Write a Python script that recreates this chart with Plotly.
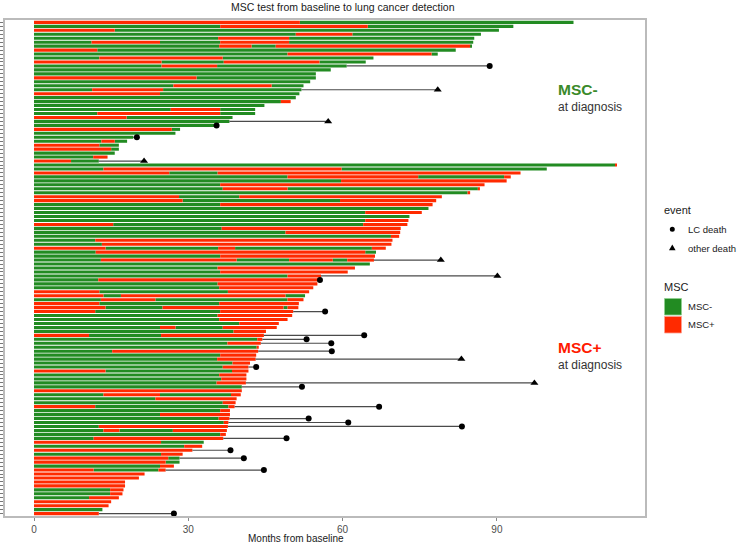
import plotly.graph_objects as go

# ---------------- data ----------------
# Each patient (row, top to bottom): tokens "<state><month>" where state G = MSC-, R = MSC+,
# and month = time (months from baseline) at which that state period ends.
msc_neg_group = [
    "R51.7 G104.9", "G36.2 R64.9 G93.2", "R15.7 G90.4", "G50.9 R61.9 G86.9",
    "G35.8 R49.6 G85.6", "G11.2 R24.5 G36.2 R49.6 G85.4", "G36.0 R42.3 G47.0 R84.8 G85.1",
    "R12.3 G82.0", "G49.3 R77.3 G78.5", "G12.7 R36.7 G66.0", "R24.8 G36.9 R55.5 G64.5",
    "G24.8 R35.6 G60.8", "G57.7", "G54.8", "R31.6 G54.8", "G53.7", "G27.1 R46.2 G52.4",
    "G11.3 R25.1 G52.0", "R24.5 G51.6", "G50.9", "G48.0 R49.9", "G44.8",
    "G26.6 R36.2 G43.0", "G12.3 R36.2 G43.0", "R18.0 G38.6", "G38.0", "G35.5",
    "R26.8 G28.4", "G27.5", "G19.3", "G13.1 R15.7 G18.1", "R12.7 G16.5", "R15.0 G16.5",
    "G15.7", "G11.5 R14.3", "R7.2 G12.6",
]
msc_pos_group = [
    "G113.0 R113.3", "G13.5 R59.8 G99.7", "R26.3 G35.7 R94.6", "G49.3 R74.7 G91.4 R92.7",
    "G59.7 R91.9", "G36.2 R87.6", "G36.7 R49.3 G86.3 R86.7", "G84.3 R84.8",
    "R28.2 G39.9 R79.3", "R28.9 G59.5 R78.2", "G36.2 R77.5", "G76.7", "G64.4 R75.4",
    "G73.0", "G64.4 R72.8", "R15.4 G64.0 R72.6", "G36.5 R71.3", "G48.9 R71.2",
    "G69.4 R71.0", "G11.9 R69.7", "G13.2 R69.5", "R13.9 G35.8 R39.1 G65.7 R68.4",
    "G12.0 R64.4 G66.5", "G36.2 R66.3", "G13.0 R39.4 G49.6 R58.1 G60.9 R66.1",
    "G65.3", "G35.7 R62.4", "G36.2 R61.0", "G49.3 R55.8", "G12.5 R55.3", "G35.7 R55.1",
    "G36.0 R54.3", "R12.7 G37.7 R53.5", "R13.5 G16.9 R48.9 G52.7", "G13.0 R23.6 G49.3 R52.4",
    "R12.7 G36.0 R51.5", "R13.9 G25.0 R48.5 G49.3 R51.4", "R11.9 G36.2 R50.4",
    "G35.7 R50.2", "G36.0 R49.3", "G39.9 R47.6", "G24.5 R27.5 G36.7 R47.2",
    "G38.8 R45.1", "R10.7 G24.7 R44.7", "G43.4 R44.4", "G37.6 R44.1", "G43.3 R43.7",
    "G15.2 R43.6", "G36.2 R43.2", "G35.6 R43.1", "G38.6 R42.0", "G36.7 R41.7",
    "R13.9 G38.5 R41.7", "G36.0 R41.3", "G36.4 R41.3", "G35.5 R41.2", "G40.4", "R40.4",
    "G13.5 R24.5 G38.3 R40.2", "G23.6 R39.4", "G36.7 R39.2", "R11.9 G37.8 R39.0",
    "G36.2 R38.1", "G24.5 R38.1", "G35.9 R38.0", "G36.9 R37.8", "G12.6 R37.7",
    "G13.5 R16.6 G27.0 R37.5", "G36.2 R37.3", "G11.6 R36.8", "R24.7 G33.0",
    "G29.2 R32.7", "R30.8", "G24.7 R28.9", "R26.1 G28.3", "R25.6 G28.3", "G24.5 R27.2",
    "R11.6 G24.2 R25.6", "R21.5", "R20.4", "R17.7", "R17.7", "G14.8 R17.4",
    "G14.8 R17.2", "G10.7 R16.5", "R15.0", "R14.5", "G13.3", "R12.6",
]

event_row = [12, 18, 26, 27, 30, 36, 61, 65, 66, 74, 80, 81, 82, 84, 86, 88, 92, 93,
             98, 101, 102, 103, 106, 109, 111, 114, 125]
event_month = [88.6, 78.5, 57.2, 35.5, 20.0, 21.4, 79.1, 90.1, 55.6, 56.6, 64.2, 53.0,
               57.8, 57.9, 83.1, 43.2, 97.3, 52.1, 67.1, 53.4, 61.1, 83.2, 49.1, 38.2,
               40.8, 44.7, 27.2]
event_type = ["LC", "other", "other", "LC", "LC", "other", "other", "other", "LC", "LC",
              "LC", "LC", "LC", "LC", "other", "LC", "other", "LC", "LC", "LC", "LC",
              "LC", "LC", "LC", "LC", "LC", "LC"]

x_ticks = [0, 30, 60, 90]

# ---------------- build segments ----------------
rows = msc_neg_group + msc_pos_group
n_rows = len(rows)
seg = {"G": {"y": [], "base": [], "len": []}, "R": {"y": [], "base": [], "len": []}}
bar_end = {}
for i, s in enumerate(rows, start=1):
    prev = 0.0
    for tok in s.split():
        st, end = tok[0], float(tok[1:])
        seg[st]["y"].append(i)
        seg[st]["base"].append(prev)
        seg[st]["len"].append(end - prev)
        prev = end
    bar_end[i] = prev

GREEN = "#228B22"
RED = "#FF2A00"

fig = go.Figure()
for st, col in (("G", GREEN), ("R", RED)):
    fig.add_trace(go.Bar(
        orientation="h", y=seg[st]["y"], x=seg[st]["len"], base=seg[st]["base"],
        width=0.78, marker=dict(color=col, line=dict(width=0)), showlegend=False,
        hoverinfo="skip"))

lx, ly = [], []
for r, t in zip(event_row, event_month):
    lx += [bar_end[r], t, None]
    ly += [r, r, None]
fig.add_trace(go.Scatter(x=lx, y=ly, mode="lines", line=dict(color="#4a4a4a", width=1.2),
                         showlegend=False, hoverinfo="skip"))
for kind, sym, size in (("LC", "circle", 6), ("other", "triangle-up", 7)):
    xs = [t for t, k in zip(event_month, event_type) if k == kind]
    ys = [r for r, k in zip(event_row, event_type) if k == kind]
    fig.add_trace(go.Scatter(x=xs, y=ys, mode="markers",
                             marker=dict(symbol=sym, size=size, color="black", line=dict(width=0)),
                             showlegend=False))

# ---------------- layout ----------------
L, R, T, B = 5, 93, 20, 29
W, H = 738, 545
PW, PH = W - L - R, H - T - B


def px(x):
    return (x - L) / PW


def py(y):
    return (H - B - y) / PH


FONT = "Liberation Sans, Arial, sans-serif"
ann = []


def text(x, y, s, size, color="#1a1a1a", anchor="left", bold=False, family=FONT):
    ann.append(dict(xref="paper", yref="paper", x=px(x), y=py(y), text=f"<b>{s}</b>" if bold else s,
                    showarrow=False, xanchor=anchor, yanchor="middle",
                    font=dict(size=size, color=color, family=family)))


text(343, 7, "MSC test from baseline to lung cancer detection", 10.5, anchor="center")
text(296, 538, "Months from baseline", 10, anchor="center")
text(556, 89, "MSC-", 15.5, color="#3a8a2a", bold=True)
text(556, 106.5, "at diagnosis", 12, color="#333333")
text(556, 347.5, "MSC+", 15.5, color="#ff1a00", bold=True)
text(556, 364.5, "at diagnosis", 12, color="#333333")
# legend
text(662, 210, "event", 11)
text(686, 230, "LC death", 9.5)
text(686, 248, "other death", 9.5)
text(662, 287, "MSC", 11)
text(686, 306.7, "MSC-", 9.5)
text(686, 324.3, "MSC+", 9.5)

shapes = [
    dict(type="circle", xref="paper", yref="paper", x0=px(669.8), x1=px(674.8),
         y0=py(231.8), y1=py(226.8), fillcolor="black", line=dict(width=0)),
    dict(type="path", xref="paper", yref="paper",
         path=f"M {px(669.0)} {py(250.3)} L {px(675.6)} {py(250.3)} L {px(672.3)} {py(244.6)} Z",
         fillcolor="black", line=dict(width=0)),
    dict(type="rect", xref="paper", yref="paper", x0=px(664.5), x1=px(681.5),
         y0=py(315), y1=py(298.5), fillcolor=GREEN, line=dict(color="#8fd08f", width=0.8)),
    dict(type="rect", xref="paper", yref="paper", x0=px(664.5), x1=px(681.5),
         y0=py(333), y1=py(316.5), fillcolor=RED, line=dict(color="#ffa090", width=0.8)),
]

fig.update_layout(
    width=W, height=H, margin=dict(l=L, r=R, t=T, b=B, pad=0, autoexpand=False),
    plot_bgcolor="white", paper_bgcolor="white", barmode="overlay", bargap=0.05,
    font=dict(family=FONT), annotations=ann, shapes=shapes, showlegend=False,
    xaxis=dict(range=[-5.64, 118.8], tickvals=x_ticks, ticks="outside", ticklen=3,
               tickcolor="#888888", tickwidth=1, showgrid=False, zeroline=False,
               showline=True, linecolor="#BBBBBB", linewidth=1.5, mirror=True,
               automargin=False, tickfont=dict(size=10, color="#4d4d4d")),
    yaxis=dict(range=[n_rows + 0.6, 0.4], tickvals=list(range(1, n_rows + 1)),
               showticklabels=False, ticks="outside", ticklen=4, tickcolor="#777777",
               tickwidth=1, showgrid=False, zeroline=False, showline=True,
               automargin=False, linecolor="#BBBBBB", linewidth=1.5, mirror=True),
)

fig.write_html(
    "out.html",
    config={"displayModeBar": False},
    post_script="document.body.style.margin='0px';document.body.style.overflow='hidden';",
)
